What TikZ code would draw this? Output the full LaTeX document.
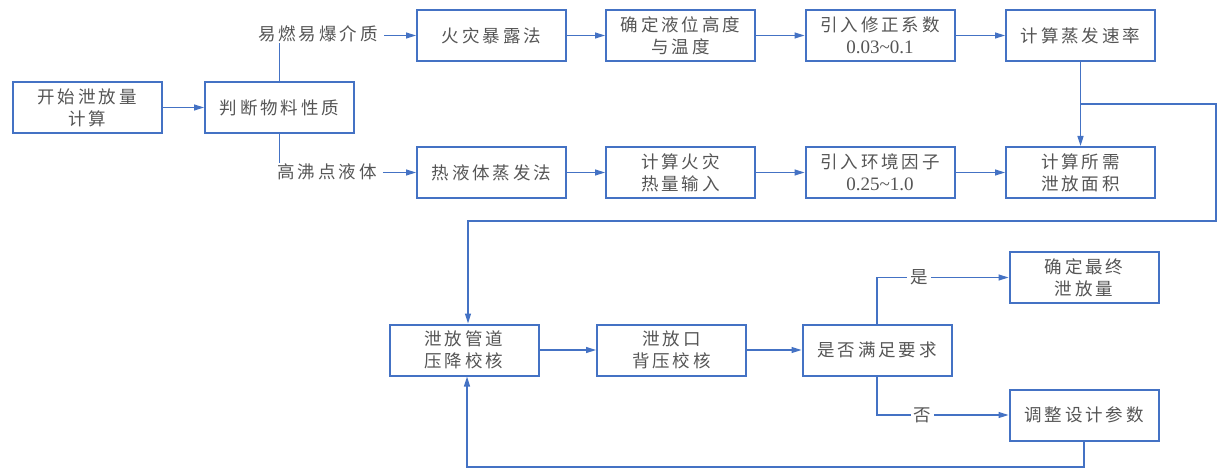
\documentclass[tikz,border=0pt]{standalone}
\usepackage{fontspec}
\setmainfont{Liberation Serif}
\newfontfamily\cjk[LetterSpace=17]{Noto Sans CJK SC}
\usetikzlibrary{arrows.meta}
\definecolor{lineblue}{RGB}{68,114,196}
\definecolor{txtgray}{RGB}{85,85,85}
\newcommand{\num}[1]{{\rmfamily\fontsize{19}{22}\selectfont #1}}
\begin{document}
\begin{tikzpicture}[x=1pt,y=-1pt,
  box/.style={draw=lineblue,line width=2pt,minimum width=149pt,minimum height=51pt,inner sep=0pt,
    align=center,text=txtgray,font=\cjk\fontsize{17.5}{22}\selectfont},
  lbl/.style={inner xsep=6pt,inner ysep=1pt,text=txtgray,font=\cjk\fontsize{17.5}{22}\selectfont},
  conn/.style={draw=lineblue,line width=1.5pt},
  arr/.style={conn,-{Triangle[length=10pt,width=6pt]}}]
\useasboundingbox (0,0) rectangle (1221,468);
% boxes
\node[box] (b1) at (87,107.5) {开始泄放量\\计算};
\node[box] (b2) at (279.5,107.5) {判断物料性质};
\node[box] (t1) at (491.5,35.5) {火灾暴露法};
\node[box] (t2) at (680.5,35.5) {确定液位高度\\与温度};
\node[box] (t3) at (880,35.5) {引入修正系数\\\num{0.03\textasciitilde 0.1}};
\node[box] (t4) at (1080.5,35.5) {计算蒸发速率};
\node[box] (m1) at (491.5,172.5) {热液体蒸发法};
\node[box] (m2) at (680.5,172.5) {计算火灾\\热量输入};
\node[box] (m3) at (880,172.5) {引入环境因子\\\num{0.25\textasciitilde 1.0}};
\node[box] (m4) at (1080.5,172.5) {计算所需\\泄放面积};
\node[box] (c1) at (464,350) {泄放管道\\压降校核};
\node[box] (c2) at (671.5,350) {泄放口\\背压校核};
\node[box] (c3) at (877,350) {是否满足要求};
\node[box] (r1) at (1084,277.5) {确定最终\\泄放量};
\node[box] (r2) at (1084,415) {调整设计参数};
% branch labels
\node[lbl] (lab1) at (318,34) {易燃易爆介质};
\node[lbl] (lab2) at (327,172) {高沸点液体};
% connectors
\draw[arr] (b1.east) -- (b2.west);
\draw[conn] (b2.north) -- (b2.north |- lab1.south);
\draw[conn] (b2.south) -- (b2.south |- lab2.north);
\draw[arr] (lab1.east |- t1.west) -- (t1.west);
\draw[arr] (lab2.east |- m1.west) -- (m1.west);
\draw[arr] (t1.east) -- (t2.west);
\draw[arr] (t2.east) -- (t3.west);
\draw[arr] (t3.east) -- (t4.west);
\draw[arr] (m1.east) -- (m2.west);
\draw[arr] (m2.east) -- (m3.west);
\draw[arr] (m3.east) -- (m4.west);
\draw[arr] (t4.south) -- (m4.north);
\coordinate (j0) at (1080.5,104);
\coordinate (j1) at (1216,104);
\coordinate (j2) at (1216,221);
\coordinate (j3) at (468,221);
\draw[arr] (j0) -- (j1) -- (j2) -- (j3) -- (j3 |- c1.north);
\draw[arr] (c1.east) -- (c2.west);
\draw[arr] (c2.east) -- (c3.west);
\draw[arr] (c3.north) |- node[pos=0.66,fill=white,inner sep=3pt,text=txtgray,font=\cjk\fontsize{17.5}{22}\selectfont] {是} (r1.west);
\draw[arr] (c3.south) |- node[pos=0.673,fill=white,inner sep=3pt,text=txtgray,font=\cjk\fontsize{17.5}{22}\selectfont] {否} (r2.west);
\coordinate (f1) at (1084,467);
\coordinate (f2) at (467,467);
\draw[arr] (r2.south) -- (f1) -- (f2) -- (f2 |- c1.south);
\end{tikzpicture}
\end{document}
